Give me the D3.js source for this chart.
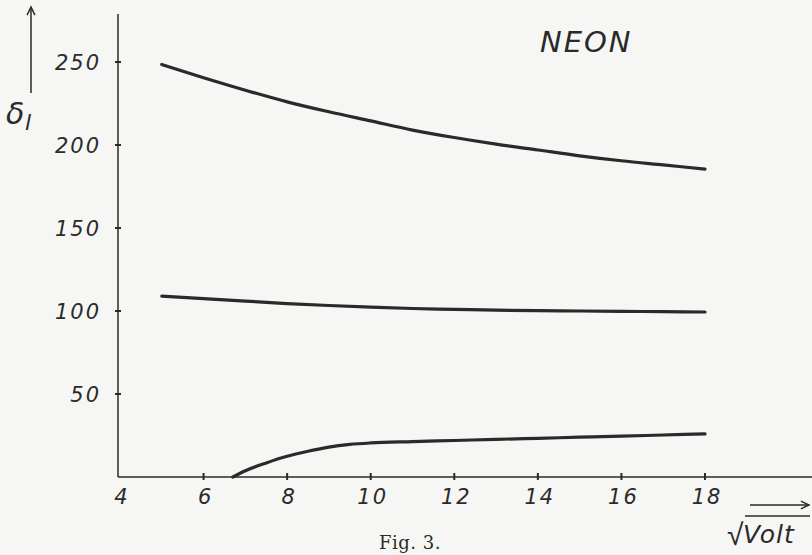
<!DOCTYPE html>
<html>
<head>
<meta charset="utf-8">
<script src="https://cdn.jsdelivr.net/npm/d3@7"></script>
<style>
  body { margin: 0; background: #f6f6f4; }
  svg { display: block; }
  .tick-label { font-family: "DejaVu Sans", sans-serif; font-style: italic; font-weight: 200; fill: #2b2b2b; }
</style>
</head>
<body>
<div id="chart"></div>
<script>
// tick labels
var xTicks = [4, 6, 8, 10, 12, 14, 16, 18];
var yTicks = [50, 100, 150, 200, 250];

// upper curve
var upperX = [5, 6, 7, 8, 9, 10, 11, 12, 13, 14, 15, 16, 17, 18];
var upperY = [248.5, 240.5, 233, 226, 220, 214.5, 209, 204.5, 200.5, 197, 193.5, 190.5, 188, 185.5];

// middle curve
var middleX = [5, 6, 7, 8, 9, 10, 11, 12, 13, 14, 15, 16, 17, 18];
var middleY = [109, 107.5, 106, 104.5, 103.3, 102.3, 101.5, 101, 100.5, 100.2, 100, 99.8, 99.6, 99.4];

// lower curve
var lowerX = [6.7, 7, 7.5, 8, 8.5, 9, 9.5, 10, 11, 12, 13, 14, 15, 16, 17, 18];
var lowerY = [0, 3.8, 8.5, 12.5, 15.5, 18, 19.6, 20.5, 21.3, 22, 22.7, 23.3, 24, 24.6, 25.3, 26];

var width = 812, height = 555;

var svg = d3.select("#chart").append("svg")
  .attr("width", width)
  .attr("height", height);

var x = d3.scaleLinear().domain([4, 18]).range([120, 705]);
var y = d3.scaleLinear().domain([0, 250]).range([477, 62]);

var ink = "#2a2a2a";

// axes lines
svg.append("line")
  .attr("x1", x(4) - 2).attr("x2", x(4) - 2)
  .attr("y1", 14).attr("y2", y(0))
  .style("stroke", ink).style("stroke-width", 1.5);
svg.append("line")
  .attr("x1", x(4) - 2).attr("x2", width)
  .attr("y1", y(0)).attr("y2", y(0))
  .style("stroke", ink).style("stroke-width", 1.4);

// y ticks
svg.selectAll(".ytick").data(yTicks).enter().append("line")
  .attr("x1", x(4) - 5).attr("x2", x(4) + 1)
  .attr("y1", function(d){ return y(d); })
  .attr("y2", function(d){ return y(d); })
  .style("stroke", ink).style("stroke-width", 2);
svg.selectAll(".ylab").data(yTicks).enter().append("text")
  .attr("class", "tick-label")
  .attr("x", 101)
  .attr("y", function(d){ return y(d) + 8; })
  .attr("text-anchor", "end")
  .style("font-size", "21px")
  .style("letter-spacing", "2px")
  .text(function(d){ return d; });

// x ticks
svg.selectAll(".xtick").data(xTicks.slice(1)).enter().append("line")
  .attr("x1", function(d){ return x(d); })
  .attr("x2", function(d){ return x(d); })
  .attr("y1", y(0) - 4).attr("y2", y(0) + 3)
  .style("stroke", ink).style("stroke-width", 2);
svg.selectAll(".xlab").data(xTicks).enter().append("text")
  .attr("class", "tick-label")
  .attr("x", function(d){ return x(d) + 2; })
  .attr("y", 504)
  .attr("text-anchor", "middle")
  .style("font-size", "21px")
  .style("letter-spacing", "2px")
  .text(function(d){ return d; });

// curves
var line = d3.line()
  .x(function(d){ return x(d[0]); })
  .y(function(d){ return y(d[1]); })
  .curve(d3.curveMonotoneX);

function drawCurve(xs, ys) {
  svg.append("path")
    .datum(d3.zip(xs, ys))
    .attr("d", line)
    .style("fill", "none")
    .style("stroke", ink)
    .style("stroke-width", 3.2)
    .style("stroke-linecap", "round");
}
drawCurve(upperX, upperY);
drawCurve(middleX, middleY);
drawCurve(lowerX, lowerY);

// arrows
function arrow(x1, y1, x2, y2) {
  svg.append("line")
    .attr("x1", x1).attr("y1", y1).attr("x2", x2).attr("y2", y2)
    .style("stroke", ink).style("stroke-width", 1.5);
  var a = Math.atan2(y2 - y1, x2 - x1), s = 9;
  var p = [[x2 - s*Math.cos(a - 0.45), y2 - s*Math.sin(a - 0.45)], [x2, y2],
           [x2 - s*Math.cos(a + 0.45), y2 - s*Math.sin(a + 0.45)]];
  svg.append("path")
    .attr("d", d3.line()(p))
    .style("fill", "none").style("stroke", ink).style("stroke-width", 1.5);
}
arrow(31, 93, 31, 7);
arrow(750, 505, 809, 505);

// y label: delta with subscript l
svg.append("text")
  .attr("x", 6).attr("y", 124)
  .style("font-family", "DejaVu Sans, sans-serif")
  .style("font-style", "italic")
  .style("font-weight", 200)
  .style("font-size", "30px")
  .style("fill", ink)
  .text("δ");
svg.append("text")
  .attr("x", 25).attr("y", 130)
  .style("font-family", "DejaVu Sans, sans-serif")
  .style("font-style", "italic")
  .style("font-weight", 200)
  .style("font-size", "22px")
  .style("fill", ink)
  .text("l");

// x label
svg.append("text")
  .attr("x", 727).attr("y", 545)
  .style("font-family", "DejaVu Sans, sans-serif")
  .style("font-weight", 200)
  .style("font-size", "30px")
  .style("fill", ink)
  .text("√");
svg.append("line")
  .attr("x1", 745).attr("x2", 810).attr("y1", 516).attr("y2", 516)
  .style("stroke", ink).style("stroke-width", 1.3);
svg.append("text")
  .attr("x", 743).attr("y", 543)
  .style("font-family", "DejaVu Sans, sans-serif")
  .style("font-style", "italic")
  .style("font-weight", 200)
  .style("font-size", "25px")
  .style("letter-spacing", "1px")
  .style("fill", ink)
  .text("Volt");

// title
svg.append("text")
  .attr("x", 540).attr("y", 52)
  .style("font-family", "DejaVu Sans, sans-serif")
  .style("font-style", "italic")
  .style("font-weight", 200)
  .style("font-size", "29px")
  .style("letter-spacing", "2px")
  .style("fill", ink)
  .text("NEON");

// caption
svg.append("text")
  .attr("x", 410).attr("y", 549)
  .attr("text-anchor", "middle")
  .style("font-family", "DejaVu Serif, serif")
  .style("font-size", "18px")
  .style("letter-spacing", "0.5px")
  .style("fill", ink)
  .text("Fig. 3.");
</script>
</body>
</html>
